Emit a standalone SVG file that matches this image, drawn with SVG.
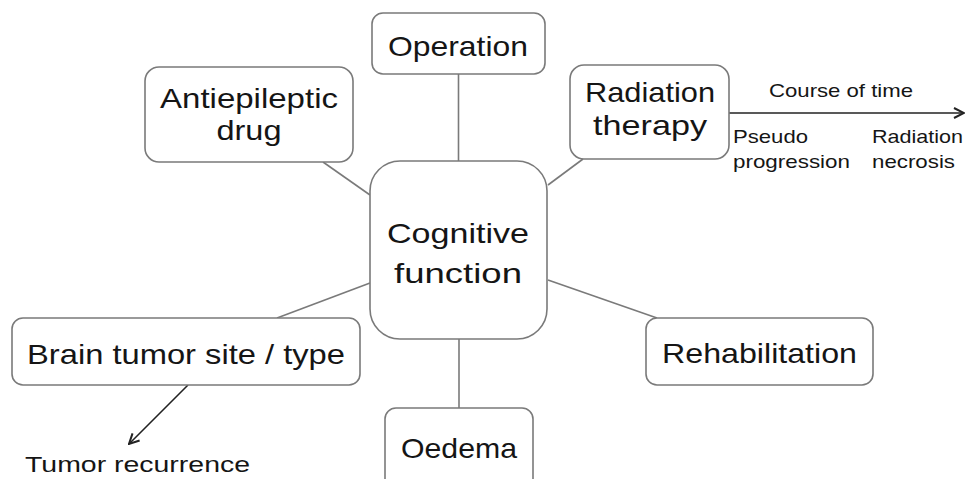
<svg xmlns="http://www.w3.org/2000/svg" width="966" height="479" viewBox="0 0 966 479">
<defs>
<style>
.box{fill:#fff;stroke:#7a7a7a;stroke-width:1.6}
.ln{stroke:#7a7a7a;stroke-width:1.6;fill:none}
.ar{stroke:#222;stroke-width:1.6;fill:none}
.t{font-family:"Liberation Sans",Arial,sans-serif;font-size:28px;fill:#151515}
.s{font-family:"Liberation Sans",Arial,sans-serif;font-size:19px;fill:#151515}
.m{font-family:"Liberation Sans",Arial,sans-serif;font-size:22px;fill:#151515}
</style>
<marker id="open" viewBox="0 0 12 12" refX="11" refY="6" markerWidth="12" markerHeight="12" markerUnits="userSpaceOnUse" orient="auto">
<path d="M1,1 L11,6 L1,11" fill="none" stroke="#222" stroke-width="2"/>
</marker>
</defs>
<rect width="966" height="479" fill="#fff"/>
<g id="connectors">
<line class="ln" x1="458.5" y1="74" x2="458.5" y2="161"/>
<line class="ln" x1="323" y1="162" x2="370" y2="195"/>
<line class="ln" x1="583" y1="159" x2="548" y2="185"/>
<line class="ln" x1="277" y1="318" x2="370" y2="283"/>
<line class="ln" x1="548" y1="280" x2="657" y2="318"/>
<line class="ln" x1="459" y1="339" x2="459" y2="408"/>
<line class="ar" x1="729" y1="113" x2="964" y2="113" marker-end="url(#open)"/>
<line class="ar" x1="188" y1="385" x2="129" y2="444" marker-end="url(#open)"/>
</g>
<g id="operation">
<rect class="box" x="372" y="13" width="173" height="61" rx="11"/>
<text class="t" x="458" y="56" text-anchor="middle" textLength="140" lengthAdjust="spacingAndGlyphs">Operation</text>
</g>
<g id="antiepileptic">
<rect class="box" x="145" y="67" width="208" height="95" rx="14"/>
<text class="t" x="249" y="108" text-anchor="middle" textLength="178" lengthAdjust="spacingAndGlyphs">Antiepileptic</text>
<text class="t" x="249" y="140" text-anchor="middle" textLength="65" lengthAdjust="spacingAndGlyphs">drug</text>
</g>
<g id="radiation">
<rect class="box" x="570" y="65" width="159" height="94" rx="14"/>
<text class="t" x="650" y="102" text-anchor="middle" textLength="130" lengthAdjust="spacingAndGlyphs">Radiation</text>
<text class="t" x="650" y="135" text-anchor="middle" textLength="114" lengthAdjust="spacingAndGlyphs">therapy</text>
</g>
<g id="timeline">
<text class="s" x="841" y="97" text-anchor="middle" textLength="144" lengthAdjust="spacingAndGlyphs">Course of time</text>
<text class="s" x="733" y="143" textLength="75" lengthAdjust="spacingAndGlyphs">Pseudo</text>
<text class="s" x="733" y="168" textLength="117" lengthAdjust="spacingAndGlyphs">progression</text>
<text class="s" x="872" y="143" textLength="91" lengthAdjust="spacingAndGlyphs">Radiation</text>
<text class="s" x="872" y="168" textLength="83" lengthAdjust="spacingAndGlyphs">necrosis</text>
</g>
<g id="cognitive">
<rect class="box" x="370" y="161" width="177" height="178" rx="30"/>
<text class="t" x="458" y="243" text-anchor="middle" textLength="142" lengthAdjust="spacingAndGlyphs">Cognitive</text>
<text class="t" x="458" y="283" text-anchor="middle" textLength="128" lengthAdjust="spacingAndGlyphs">function</text>
</g>
<g id="brain">
<rect class="box" x="12" y="318" width="348" height="67" rx="11"/>
<text class="t" x="186" y="364" text-anchor="middle" textLength="318" lengthAdjust="spacingAndGlyphs">Brain tumor site / type</text>
</g>
<g id="recurrence">
<text class="m" x="25" y="472" textLength="225" lengthAdjust="spacingAndGlyphs">Tumor recurrence</text>
</g>
<g id="rehabilitation">
<rect class="box" x="646" y="318" width="227" height="67" rx="11"/>
<text class="t" x="759.5" y="363" text-anchor="middle" textLength="195" lengthAdjust="spacingAndGlyphs">Rehabilitation</text>
</g>
<g id="oedema">
<rect class="box" x="385" y="408" width="148" height="90" rx="11"/>
<text class="t" x="459" y="458" text-anchor="middle" textLength="116" lengthAdjust="spacingAndGlyphs">Oedema</text>
</g>
</svg>
